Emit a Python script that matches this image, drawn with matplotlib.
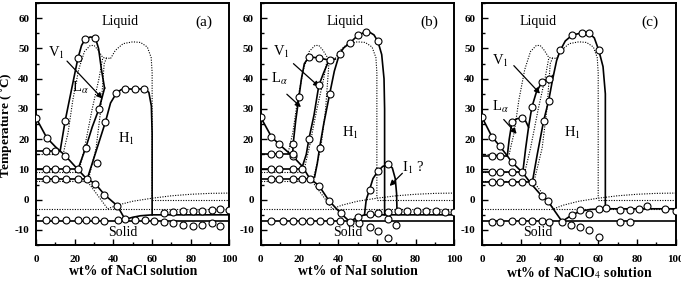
import numpy as np
import matplotlib.pyplot as plt
from matplotlib.ticker import MultipleLocator

plt.rcParams['font.family'] = ['Liberation Serif', 'DejaVu Serif']
plt.rcParams['mathtext.fontset'] = 'stix'
plt.rcParams['axes.unicode_minus'] = False

# ---- reference system (dotted), same in all panels ----
ref_la_x = [14, 15, 16.5, 19, 22, 25, 28, 30, 32, 34.5, 38.5]
ref_la_t = [15, 18, 22, 33, 43, 49, 51, 51, 49.5, 47, 46.7]
ref_h1_x = [38.5, 41, 45, 50, 54, 57.5, 59.5, 60, 60]
ref_h1_t = [46.7, 49.4, 51.6, 52.2, 52, 50.5, 47, 42, 0.5]
ref_b_x = [22, 25, 29, 32.5, 34.5]
ref_b_t = [9, 17, 30, 40, 47]
ref_c_x = [27, 31, 33.5, 35.2, 36.5]
ref_c_t = [6.5, 17, 30, 45, 47]
ref_sol_x = [26, 37]
ref_sol_t = [6.5, -3]
ref_rise_x = [37, 42, 50, 60, 70, 80, 90, 100]
ref_rise_t = [-3, -1.8, -0.5, 0.5, 1.3, 1.8, 2.1, 2.2]
ref_flat = [(15, 0, 10), (9.3, 0, 22), (6.3, 0, 26), (-3, 0, 100), (0, 60, 100)]

# ---- (a) NaCl ----
a_liq_x = [0, 5.5, 10, 15.2, 21.6, 26, 30.6, 35.3, 42, 46]
a_liq_t = [27, 20.5, 17.5, 14.5, 10, 7, 5.3, 1.7, -2, -6.5]
a_liq_px = [0, 5.5, 15.2, 30.6, 35.3, 42]
a_liq_pt = [27, 20.5, 14.5, 5.3, 1.7, -2]
a_hor = [(16, 12.4, [5.2, 9.8]), (10, 21.6, [5.2, 9.8, 15.5, 21.6]),
         (7, 26.5, [5.2, 9.8, 15.5, 21.6, 26.3])]
a_A_x = [12.4, 15, 18.5, 21.6, 23.5, 25.4, 28, 30.6, 32.3, 33.8, 35.4]
a_A_t = [16, 26, 37, 46.7, 51, 53.1, 53.8, 53.6, 50, 43, 36.9]
a_A_px = [15, 21.6, 25.4, 30.6]
a_A_pt = [26, 46.7, 53.1, 53.6]
a_B_x = [21.6, 25.7, 29, 32.5, 34.2, 35.4]
a_B_t = [10, 17.2, 24, 30, 34, 36.9]
a_B_px = [25.7, 32.5]
a_B_pt = [17.2, 30]
a_H_x = [26.5, 31, 35.8, 38.5, 41.5, 44, 46, 51.3, 56, 58.3, 59.6, 60, 60]
a_H_t = [7, 16, 25.6, 32, 35.2, 36.4, 36.7, 36.5, 36.7, 35.5, 31, 22, -5]
a_H_px = [35.8, 41.5, 46, 51.3, 56]
a_H_pt = [25.6, 35.2, 36.7, 36.5, 36.7]
a_low_x = [46, 50, 54, 60, 100]
a_low_t = [-6.5, -5.8, -5.3, -5, -5]
a_bot_px = [5.2, 9.8, 15.5, 21.6, 25.8, 30.6, 35.2, 42.1, 46, 51.3, 56.5, 60.8,
            66, 71, 76, 81, 85.8, 90.7, 95.3]
a_bot_pt = [-6.8, -6.8, -6.8, -6.8, -6.8, -6.8, -6.9, -6.8, -6.5, -6.8, -6.8, -6.9,
            -7.2, -7.7, -8.2, -8.8, -8.2, -7.7, -8.8]
a_up_px = [31.4, 66, 71, 76, 81, 86, 90.7, 95.3, 100]
a_up_pt = [12.2, -4.4, -4, -3.8, -3.8, -3.6, -3.3, -3.1, -3.5]

# ---- (b) NaI ----
b_liq_x = [0, 5.5, 9.5, 16.5, 21.5, 25.3, 30, 35.2, 41.2, 45.9]
b_liq_t = [27.2, 20.8, 18.3, 14.4, 11, 7, 4.7, -0.3, -4.4, -7.2]
b_liq_px = [0, 5.5, 9.5, 16.5, 30, 35.2, 41.2]
b_liq_pt = [27.2, 20.8, 18.3, 14.4, 4.7, -0.3, -4.4]
b_hor = [(15, 16.5, [5.5, 9.5, 16.5]), (10, 21.5, [5.5, 9.5, 16.5, 21.5]),
         (6.7, 25.3, [5.5, 9.5, 16.5, 21.5, 25.3])]
b_A_x = [16.5, 16.7, 18, 19.7, 21, 22.5, 24.9, 30, 35.6, 38.5]
b_A_t = [15, 18.3, 26, 33.9, 40, 45, 47.2, 46.9, 46.1, 46.5]
b_A_px = [16.7, 19.7, 24.9, 30, 35.6]
b_A_pt = [18.3, 33.9, 47.2, 46.9, 46.1]
b_B_x = [21.5, 23.5, 24.9, 27.5, 30, 32.5, 34.5, 35.6]
b_B_t = [11, 15, 20.2, 28, 37.8, 42, 45, 46.1]
b_B_px = [24.9, 30]
b_B_pt = [20.2, 37.8]
b_H_x = [27.8, 29.2, 30.4, 32.5, 35.6, 38, 40.7, 43, 45.9, 50.2, 54.5, 56.2, 58.5,
         60.5, 62.5, 63.7, 64, 64]
b_H_t = [7.5, 12, 17.2, 25, 35, 42.5, 48.3, 50.3, 51.7, 54.4, 55.6, 55.4, 54.5,
         52.4, 48, 40, 30, -5]
b_H_px = [30.4, 35.6, 40.7, 45.9, 50.2, 54.5, 60.5]
b_H_pt = [17.2, 35, 48.3, 51.7, 54.4, 55.6, 52.4]
b_I_x = [53.6, 54.5, 56.2, 58, 60.5, 63, 66, 68, 69.5, 70.2, 70.4]
b_I_t = [-5, 0, 3.3, 7, 9.4, 11, 11.7, 10.5, 7, 2, -3.6]
b_I_px = [56.2, 60.5, 66]
b_I_pt = [3.3, 9.4, 11.7]
b_low_x = [45.9, 50, 53.6, 100]
b_low_t = [-7.2, -5.8, -5, -5]
b_bot_px = [5.5, 11.5, 16.7, 21.5, 25.3, 30.4, 35.6, 40.7, 45.9,
            50.7, 56.2, 60.8, 66, 65.6, 69.9]
b_bot_pt = [-6.9, -6.9, -7, -7, -6.9, -6.9, -6.9, -6.9, -7.2,
            -7.8, -9.1, -10.2, -12.6, -6.4, -8.3]
b_up_px = [50.5, 56.2, 60.8, 65.6, 70.8, 75.6, 80.6, 85.6, 90.7, 95.3, 100]
b_up_pt = [-5.6, -4.7, -4.4, -3.9, -3.6, -3.6, -3.6, -3.6, -3.6, -4, -4]

# ---- (c) NaClO4 ----
c_liq_x = [0, 5, 9, 13, 15.4, 21, 25.7, 31, 33.8, 41.3]
c_liq_t = [27.2, 20.9, 17.8, 14.5, 12.4, 8.9, 5, 1.1, -0.3, -7.2]
c_liq_px = [0, 5, 9, 15.4, 31, 33.8]
c_liq_pt = [27.2, 20.9, 17.8, 12.4, 1.1, -0.3]
c_hor = [(14.3, 13, [5, 9]), (9.2, 21, [5, 9, 15.4, 20.6]),
         (5.9, 26, [5, 9, 15.4, 20.6, 25.7])]
c_A_x = [13, 14, 15.4, 18, 20.6, 22.5, 24]
c_A_t = [14.5, 20, 25.6, 26.8, 26.9, 26, 24]
c_A_px = [15.4, 20.6]
c_A_pt = [25.6, 26.9]
c_B_x = [21, 22.5, 24, 25.7, 28, 30.9, 34.4, 36.5]
c_B_t = [9, 17, 24, 30.6, 35.5, 38.9, 40, 41]
c_B_px = [25.7, 30.9, 34.4]
c_B_pt = [30.6, 38.9, 40]
c_H_x = [26, 28.5, 31.8, 34.4, 36.5, 38.5, 40.4, 43, 46.5, 51.7, 55.1, 58, 60.3,
         62.5, 63.7, 63.7]
c_H_t = [6, 15, 26.1, 32.8, 40, 46, 49.4, 52.5, 54.4, 55.2, 55.2, 53.5, 49.4,
         44, 35, -3]
c_H_px = [31.8, 34.4, 40.4, 46.5, 51.7, 55.1, 60.3]
c_H_pt = [26.1, 32.8, 49.4, 54.4, 55.2, 55.2, 49.4]
c_low_x = [41.3, 46.5, 50.8, 56, 64, 100]
c_low_t = [-7.2, -5, -3.8, -3.2, -3, -3]
c_bot_px = [5, 9, 15.4, 20.6, 25.7, 30.9, 34.4, 41.3, 46, 50.8, 55.1, 60.3, 71.2, 76.3]
c_bot_pt = [-7.2, -7.2, -7, -7, -6.9, -6.9, -7.4, -7.2, -8.3, -9.1, -10, -12.2,
            -7.2, -7.2]
c_up_px = [46.5, 50.8, 55.1, 60.3, 64.2, 71.2, 76.3, 81, 85.3, 94.8, 100]
c_up_pt = [-5, -3.4, -4.7, -3, -2.8, -3.3, -3.3, -3, -2.2, -3.1, -3.6]

salts = ['NaCl', 'NaI', 'NaClO$_4$']
tags = ['(a)', '(b)', '(c)']

fig = plt.figure(figsize=(6.81, 2.84), dpi=100)
lefts = [0.053, 0.383, 0.708]
mk = dict(marker='o', ms=5, mfc='white', mec='black', mew=0.8, ls='none', zorder=5)
dot_ls = (0, (1, 1.3))


def line(ax, x, t, lw=1.2):
    ax.plot(x, t, color='black', lw=lw, zorder=3)


def dots(ax, x, t):
    ax.plot(x, t, **mk)


def reference(ax):
    for x, t in [(ref_la_x, ref_la_t), (ref_h1_x, ref_h1_t), (ref_b_x, ref_b_t),
                 (ref_c_x, ref_c_t), (ref_sol_x, ref_sol_t), (ref_rise_x, ref_rise_t)]:
        ax.plot(x, t, color='black', lw=0.8, ls=dot_ls, zorder=2)
    for t, x0, x1 in ref_flat:
        ax.plot([x0, x1], [t, t], color='black', lw=0.8, ls=dot_ls, zorder=2)


panels = [
    (a_liq_x, a_liq_t, a_liq_px, a_liq_pt, a_hor, a_A_x, a_A_t, a_A_px, a_A_pt,
     a_B_x, a_B_t, a_B_px, a_B_pt, a_H_x, a_H_t, a_H_px, a_H_pt, a_low_x, a_low_t,
     a_bot_px, a_bot_pt, a_up_px, a_up_pt),
    (b_liq_x, b_liq_t, b_liq_px, b_liq_pt, b_hor, b_A_x, b_A_t, b_A_px, b_A_pt,
     b_B_x, b_B_t, b_B_px, b_B_pt, b_H_x, b_H_t, b_H_px, b_H_pt, b_low_x, b_low_t,
     b_bot_px, b_bot_pt, b_up_px, b_up_pt),
    (c_liq_x, c_liq_t, c_liq_px, c_liq_pt, c_hor, c_A_x, c_A_t, c_A_px, c_A_pt,
     c_B_x, c_B_t, c_B_px, c_B_pt, c_H_x, c_H_t, c_H_px, c_H_pt, c_low_x, c_low_t,
     c_bot_px, c_bot_pt, c_up_px, c_up_pt),
]

axes = []
for i, p in enumerate(panels):
    ax = fig.add_axes([lefts[i], 0.137, 0.284, 0.852])
    axes.append(ax)
    (lx, lt, lpx, lpt, hor, Ax, At, Apx, Apt, Bx, Bt, Bpx, Bpt, Hx, Ht, Hpx, Hpt,
     wx, wt, bpx, bpt, upx, upt) = p
    reference(ax)
    line(ax, lx, lt)
    dots(ax, lpx, lpt)
    for t, xe, px in hor:
        line(ax, [0, xe], [t, t])
        dots(ax, px, [t] * len(px))
    for x, t, px, pt in [(Ax, At, Apx, Apt), (Bx, Bt, Bpx, Bpt), (Hx, Ht, Hpx, Hpt)]:
        line(ax, x, t)
        dots(ax, px, pt)
    line(ax, wx, wt)
    line(ax, [0, 100], [-7, -7])
    dots(ax, bpx, bpt)
    dots(ax, upx, upt)

    ax.set_xlim(0, 100)
    ax.set_ylim(-15, 65)
    ax.xaxis.set_major_locator(MultipleLocator(20))
    ax.xaxis.set_minor_locator(MultipleLocator(10))
    ax.yaxis.set_major_locator(MultipleLocator(10))
    ax.yaxis.set_minor_locator(MultipleLocator(5))
    ax.tick_params(which='both', direction='in', width=1.0, labelsize=8, pad=7)
    ax.tick_params(axis='y', pad=5)
    ax.tick_params(which='major', length=4.5)
    ax.tick_params(which='minor', length=2.5)
    for lab in ax.get_xticklabels() + ax.get_yticklabels():
        lab.set_fontweight('bold')
    for s in ax.spines.values():
        s.set_linewidth(1.4)
    ax.set_xlabel('wt% of ' + salts[i] + ' solution', fontsize=10, fontweight='bold',
                  labelpad=1)
    ax.text(43.5 if i < 2 else 29, 59, 'Liquid', fontsize=10, ha='center', va='center')
    ax.text(87, 58.8, tags[i], fontsize=11, ha='center', va='center')
    ax.text(45 if i < 2 else 29, -11, 'Solid', fontsize=10, ha='center', va='center')
    ax.text(46.5, 20 if i == 0 else 22, 'H$_1$', fontsize=10.5, ha='center', va='center')

line(axes[1], b_I_x, b_I_t)
dots(axes[1], b_I_px, b_I_pt)

fig.text(0.0095, 0.56, 'Temperature ( $^{\\circ}$C)', fontsize=9.5, fontweight='bold',
         rotation=90, ha='center', va='center')

arw = dict(arrowstyle='-|>', color='black', lw=0.9, mutation_scale=8)
# (a)
axes[0].text(10.7, 48.5, 'V$_1$', fontsize=10.5, ha='center', va='center')
axes[0].annotate('', xy=(35.2, 32.8), xytext=(15, 46.5), arrowprops=arw)
axes[0].text(23, 37, 'L$_\\alpha$', fontsize=10.5, ha='center', va='center')
# (b)
axes[1].text(10.7, 49, 'V$_1$', fontsize=10.5, ha='center', va='center')
axes[1].annotate('', xy=(31.3, 36.7), xytext=(15.8, 45.6), arrowprops=arw)
axes[1].text(9.8, 40, 'L$_\\alpha$', fontsize=10.5, ha='center', va='center')
axes[1].annotate('', xy=(21.8, 30), xytext=(12.4, 35.5), arrowprops=arw)
axes[1].text(79, 10.6, 'I$_1$ ?', fontsize=10.5, ha='center', va='center')
axes[1].annotate('', xy=(65.6, 3.9), xytext=(74.2, 9.4), arrowprops=arw)
# (c)
axes[2].text(9.3, 46, 'V$_1$', fontsize=10.5, ha='center', va='center')
axes[2].annotate('', xy=(30.9, 34.4), xytext=(15.4, 45), arrowprops=arw)
axes[2].text(9.3, 30.6, 'L$_\\alpha$', fontsize=10.5, ha='center', va='center')
axes[2].annotate('', xy=(18.8, 21.1), xytext=(10.2, 27.2), arrowprops=arw)

fig.savefig('out.png', dpi=100)
